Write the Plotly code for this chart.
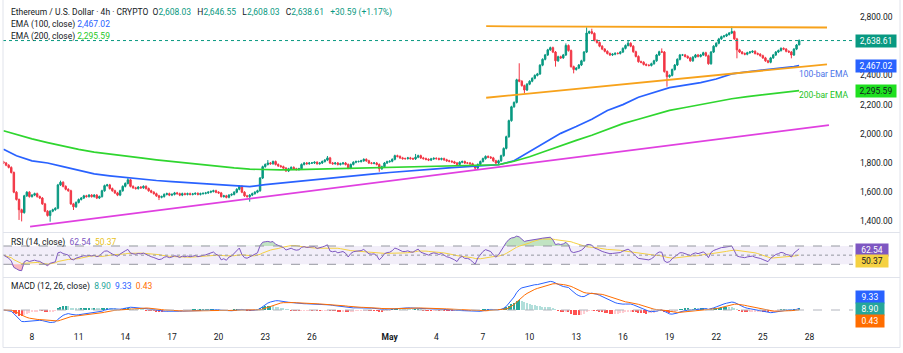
import numpy as np
import pandas as pd
import plotly.graph_objects as go

W, H = 903, 353
FONT = "Roboto"

# ---------------- data ----------------
days = ["2025-04-06", "2025-04-07", "2025-04-08", "2025-04-09", "2025-04-10", "2025-04-11",
        "2025-04-12", "2025-04-13", "2025-04-14", "2025-04-15", "2025-04-16", "2025-04-17",
        "2025-04-18", "2025-04-19", "2025-04-20", "2025-04-21", "2025-04-22", "2025-04-23",
        "2025-04-24", "2025-04-25", "2025-04-26", "2025-04-27", "2025-04-28", "2025-04-29",
        "2025-04-30", "2025-05-01", "2025-05-02", "2025-05-03", "2025-05-04", "2025-05-05",
        "2025-05-06", "2025-05-07", "2025-05-08", "2025-05-09", "2025-05-10", "2025-05-11",
        "2025-05-12", "2025-05-13", "2025-05-14", "2025-05-15", "2025-05-16", "2025-05-17",
        "2025-05-18", "2025-05-19", "2025-05-20", "2025-05-21", "2025-05-22", "2025-05-23",
        "2025-05-24", "2025-05-25", "2025-05-26", "2025-05-27"]

# 4h closes per day
closes_by_day = [
    [1800, 1785, 1770, 1735, 1600],
    [1550, 1480, 1460, 1575, 1600, 1570],
    [1580, 1590, 1570, 1560, 1520, 1470],
    [1440, 1470, 1480, 1490, 1650, 1668],
    [1640, 1620, 1610, 1520, 1500, 1530],
    [1550, 1560, 1575, 1570, 1580, 1570],
    [1580, 1560, 1570, 1610, 1645, 1650],
    [1625, 1610, 1595, 1580, 1610, 1640],
    [1660, 1685, 1640, 1630, 1625, 1635],
    [1630, 1640, 1625, 1610, 1600, 1590],
    [1575, 1565, 1570, 1585, 1590, 1580],
    [1585, 1595, 1590, 1580, 1590, 1585],
    [1590, 1585, 1588, 1592, 1585, 1590],
    [1592, 1595, 1600, 1605, 1610, 1600],
    [1595, 1570, 1575, 1565, 1580, 1585],
    [1600, 1620, 1640, 1600, 1575, 1570],
    [1580, 1590, 1600, 1610, 1697, 1775],
    [1790, 1800, 1795, 1810, 1790, 1780],
    [1775, 1765, 1745, 1760, 1770, 1760],
    [1755, 1760, 1790, 1800, 1795, 1800],
    [1800, 1805, 1795, 1800, 1810, 1820],
    [1835, 1800, 1795, 1800, 1790, 1795],
    [1800, 1790, 1765, 1790, 1805, 1810],
    [1810, 1815, 1825, 1815, 1800, 1798],
    [1800, 1790, 1760, 1775, 1800, 1809],
    [1812, 1825, 1850, 1845, 1835, 1830],
    [1830, 1835, 1830, 1828, 1840, 1850],
    [1835, 1830, 1825, 1820, 1828, 1832],
    [1830, 1825, 1830, 1822, 1815, 1812],
    [1808, 1800, 1790, 1805, 1810, 1800],
    [1800, 1795, 1780, 1765, 1790, 1810],
    [1830, 1845, 1840, 1835, 1815, 1800],
    [1815, 1850, 1900, 1980, 2090, 2185],
    [2215, 2370, 2360, 2330, 2300, 2340],
    [2360, 2380, 2400, 2410, 2470, 2510],
    [2540, 2575, 2590, 2560, 2500, 2528],
    [2520, 2540, 2605, 2570, 2460, 2440],
    [2450, 2471, 2500, 2560, 2690, 2700],
    [2688, 2640, 2625, 2600, 2580, 2565],
    [2550, 2540, 2545, 2551, 2550, 2560],
    [2585, 2605, 2620, 2600, 2562, 2530],
    [2494, 2490, 2475, 2470, 2468, 2480],
    [2500, 2540, 2562, 2560, 2426, 2391],
    [2400, 2440, 2471, 2510, 2540, 2540],
    [2530, 2520, 2500, 2525, 2540, 2530],
    [2540, 2555, 2535, 2480, 2560, 2600],
    [2620, 2650, 2665, 2670, 2680, 2690],
    [2700, 2650, 2575, 2560, 2550, 2545],
    [2555, 2560, 2565, 2550, 2545, 2535],
    [2520, 2500, 2490, 2520, 2540, 2560],
    [2570, 2585, 2580, 2565, 2560, 2540],
    [2580, 2608.03, 2638.61],
]
first_open = 1808
wick_pad = 7

# notable wick extremes
wick_times = ["2025-04-07 04:00", "2025-04-07 08:00", "2025-04-09 04:00", "2025-04-09 20:00",
              "2025-04-10 16:00", "2025-04-14 04:00", "2025-04-16 04:00", "2025-04-22 00:00",
              "2025-04-23 04:00", "2025-04-24 08:00", "2025-04-27 00:00", "2025-04-30 08:00",
              "2025-05-02 16:00", "2025-05-05 08:00", "2025-05-06 12:00", "2025-05-09 08:00",
              "2025-05-09 16:00", "2025-05-11 08:00", "2025-05-11 16:00", "2025-05-12 08:00",
              "2025-05-12 20:00", "2025-05-13 16:00", "2025-05-14 00:00", "2025-05-16 08:00",
              "2025-05-18 12:00", "2025-05-18 20:00", "2025-05-23 00:00", "2025-05-23 08:00",
              "2025-05-25 08:00", "2025-05-26 20:00", "2025-05-27 08:00"]
wick_highs = [None, None, None, 1679, None, 1697, None, None, 1820, None, 1848, None, 1862, None,
              None, 2483, None, 2597, None, 2619, None, 2729, 2720, 2642, 2585, None, 2735, None,
              None, None, 2646.55]
wick_lows = [1410, 1400, 1398, None, 1478, None, 1546, 1535, None, 1740, None, 1740, None, 1786,
             1752, None, 2277, None, 2460, None, 2414, None, None, None, None, 2323, None, 2517,
             2483, 2517, 2608.03]

# EMA values (daily)
ema_dates = (["2025-04-06 04:00"] +
             [d.strftime("%Y-%m-%d 00:00") for d in pd.date_range("2025-04-07", "2025-05-27")] +
             ["2025-05-27 08:00"])
ema100 = [1894, 1850, 1815, 1800, 1775, 1748, 1725, 1712, 1700, 1690, 1680, 1672, 1665, 1658,
          1650, 1643, 1638, 1652, 1663, 1673, 1685, 1697, 1707, 1717, 1726, 1735, 1745, 1752,
          1760, 1768, 1775, 1781, 1788, 1815, 1877, 1940, 2003, 2050, 2100, 2160, 2200, 2250,
          2285, 2316, 2333, 2350, 2375, 2410, 2425, 2435, 2445, 2460, 2467.02]
ema200 = [2021, 1995, 1965, 1940, 1915, 1893, 1875, 1860, 1847, 1835, 1822, 1810, 1798, 1787,
          1776, 1766, 1758, 1753, 1753, 1754, 1757, 1760, 1763, 1766, 1769, 1772, 1775, 1777,
          1779, 1781, 1783, 1785, 1788, 1812, 1843, 1880, 1920, 1955, 1990, 2030, 2070, 2100,
          2130, 2160, 2180, 2200, 2222, 2240, 2255, 2268, 2282, 2292, 2295.59]

# drawn trend lines (start / end)
support_dates = ["2025-04-07 21:00", "2025-05-29 06:00"]
support_prices = [1364, 2060]
top_dates = ["2025-05-07 05:00", "2025-05-29 03:00"]
top_prices = [2737, 2728]
rising_dates = ["2025-05-07 05:00", "2025-05-29 03:00"]
rising_prices = [2247, 2476]

# legend / label values
ema100_last, ema200_last = 2467.02, 2295.59
rsi_last, rsi_ma_last = 62.54, 50.37
macd_hist_last, macd_last, macd_signal_last = 8.90, 9.33, 0.43
change_abs, change_pct = 30.59, 1.17

x_tick_dates = ["2025-04-08", "2025-04-11", "2025-04-14", "2025-04-17", "2025-04-20",
                "2025-04-23", "2025-04-26", "2025-05-01", "2025-05-04", "2025-05-07",
                "2025-05-10", "2025-05-13", "2025-05-16", "2025-05-19", "2025-05-22",
                "2025-05-25", "2025-05-28"]
x_tick_text = ["8", "11", "14", "17", "20", "23", "26", "<b>May</b>", "4", "7", "10", "13",
               "16", "19", "22", "25", "28"]
price_ticks = [1400, 1600, 1800, 2000, 2200, 2400, 2800]   # 2,600 sits behind the last-price tag

# ---------------- build OHLC ----------------
times, closes = [], []
for i, (d, vals) in enumerate(zip(days, closes_by_day)):
    start_h = 24 - 4 * len(vals) if i == 0 else 0
    for k, v in enumerate(vals):
        times.append(pd.Timestamp(d) + pd.Timedelta(hours=start_h + 4 * k))
        closes.append(float(v))
opens = [float(first_open)] + closes[:-1]
hi_over = {pd.Timestamp(t): v for t, v in zip(wick_times, wick_highs) if v is not None}
lo_over = {pd.Timestamp(t): v for t, v in zip(wick_times, wick_lows) if v is not None}
highs, lows = [], []
for t, o, c in zip(times, opens, closes):
    highs.append(max(hi_over[t], o, c) if t in hi_over else max(o, c) + wick_pad)
    lows.append(min(lo_over[t], o, c) if t in lo_over else min(o, c) - wick_pad)

c = np.array(closes)


def ema(x, n):
    a = 2 / (n + 1)
    out = np.empty_like(x)
    out[0] = x[0]
    for i in range(1, len(x)):
        out[i] = a * x[i] + (1 - a) * out[i - 1]
    return out


macd = ema(c, 12) - ema(c, 26)
sig = ema(macd, 9)
hist = macd - sig
dif = np.diff(c, prepend=c[0])
g = np.clip(dif, 0, None)
l = np.clip(-dif, 0, None)
ag = np.empty_like(c)
al = np.empty_like(c)
ag[0] = al[0] = 8.0
for i in range(1, len(c)):
    ag[i] = (ag[i - 1] * 13 + g[i]) / 14
    al[i] = (al[i - 1] * 13 + l[i]) / 14
rsi = 100 - 100 / (1 + ag / al)
rsi_ma = pd.Series(rsi).rolling(14, min_periods=1).mean().values

# ---------------- geometry ----------------
def px(x):
    return x / W


def py(y):
    return 1 - y / H


X0, X1 = 3, 853
MAIN = (0, 232)
RSI = (233, 277)
MACD = (278, 330)
day_px = 15.55
apr8 = pd.Timestamp("2025-04-08")
x_start = apr8 + pd.Timedelta(days=(X0 - 32) / day_px)
x_end = apr8 + pd.Timedelta(days=(X1 - 32) / day_px)

k = 1000 / 146.0
p_top = 2800 + (17 - MAIN[0]) * k
p_bot = 2800 - (MAIN[1] - 17) * k
r_scale = 40 / (264.3 - 246)
r_top = 70 + (246 - RSI[0]) * r_scale
r_bot = 30 - (RSI[1] - 264.3) * r_scale
P = float(np.max(macd))
m_scale = P / 28.6
zero_px = 310
m_top = (zero_px - MACD[0]) * m_scale
m_bot = -(MACD[1] - zero_px) * m_scale

UP, DOWN = "#089981", "#f23645"
BLUE, GREEN = "#2962ff", "#2fd62f"
ORANGE, MAGENTA = "#f7a21b", "#e040e0"
TXT = "#131722"

fig = go.Figure()
fig.add_trace(go.Candlestick(
    x=times, open=opens, high=highs, low=lows, close=closes, xaxis="x", yaxis="y",
    increasing=dict(line=dict(color=UP, width=1), fillcolor=UP),
    decreasing=dict(line=dict(color=DOWN, width=1), fillcolor=DOWN),
    whiskerwidth=0, showlegend=False))
fig.add_trace(go.Scatter(x=pd.to_datetime(ema_dates), y=ema100, mode="lines", yaxis="y",
                         line=dict(color=BLUE, width=1.7), showlegend=False))
fig.add_trace(go.Scatter(x=pd.to_datetime(ema_dates), y=ema200, mode="lines", yaxis="y",
                         line=dict(color=GREEN, width=1.7), showlegend=False))
for dts, prs, col in [(support_dates, support_prices, MAGENTA), (top_dates, top_prices, ORANGE),
                      (rising_dates, rising_prices, ORANGE)]:
    fig.add_trace(go.Scatter(x=pd.to_datetime(dts), y=prs, mode="lines", yaxis="y",
                             line=dict(color=col, width=1.8), showlegend=False))

# RSI
fig.add_trace(go.Scatter(x=times, y=[70] * len(times), yaxis="y2", mode="lines",
                         line=dict(width=0), showlegend=False, hoverinfo="skip"))
fig.add_trace(go.Scatter(x=times, y=np.maximum(rsi, 70), yaxis="y2", mode="lines",
                         line=dict(width=0), fill="tonexty", fillcolor="rgba(76,175,80,0.35)",
                         showlegend=False, hoverinfo="skip"))
fig.add_trace(go.Scatter(x=times, y=[30] * len(times), yaxis="y2", mode="lines",
                         line=dict(width=0), showlegend=False, hoverinfo="skip"))
fig.add_trace(go.Scatter(x=times, y=np.minimum(rsi, 30), yaxis="y2", mode="lines",
                         line=dict(width=0), fill="tonexty", fillcolor="rgba(242,54,69,0.35)",
                         showlegend=False, hoverinfo="skip"))
fig.add_trace(go.Scatter(x=times, y=rsi_ma, yaxis="y2", mode="lines",
                         line=dict(color="#f5d142", width=1), showlegend=False))
fig.add_trace(go.Scatter(x=times, y=rsi, yaxis="y2", mode="lines",
                         line=dict(color="#7e57c2", width=1), showlegend=False))

# MACD
hcols = []
for i, h in enumerate(hist):
    prev = hist[i - 1] if i > 0 else h
    if h >= 0:
        hcols.append("#26a69a" if h >= prev else "#b2dfdb")
    else:
        hcols.append("#ff5252" if h < prev else "#ffcdd2")
fig.add_trace(go.Bar(x=times, y=hist, yaxis="y3", marker=dict(color=hcols, line=dict(width=0)),
                     width=4 * 3600 * 1000 * 0.45, showlegend=False))
fig.add_trace(go.Scatter(x=times, y=macd, yaxis="y3", mode="lines",
                         line=dict(color=BLUE, width=1), showlegend=False))
fig.add_trace(go.Scatter(x=times, y=sig, yaxis="y3", mode="lines",
                         line=dict(color="#ff6d00", width=1), showlegend=False))

shapes = []
# RSI band and levels
shapes.append(dict(type="rect", xref="paper", x0=px(X0), x1=px(X1), yref="y2", y0=30, y1=70,
                   fillcolor="rgba(126,87,194,0.10)", line=dict(width=0), layer="below"))
for lv, dash in [(70, "dash"), (50, "dot"), (30, "dash")]:
    shapes.append(dict(type="line", xref="paper", x0=px(X0), x1=px(X1), yref="y2", y0=lv, y1=lv,
                       line=dict(color="#9598a1", width=1, dash=dash)))
shapes.append(dict(type="line", xref="paper", x0=px(X0), x1=px(X1), yref="y3", y0=0, y1=0,
                   line=dict(color="#b2b5be", width=1, dash="dash")))
# last price dotted line
shapes.append(dict(type="line", xref="paper", x0=px(X0), x1=px(855), yref="y", y0=closes[-1],
                   y1=closes[-1], line=dict(color=UP, width=1, dash="dot")))
# pane separators / frame
for ysep in [232.5, 277.5, 347.5]:
    shapes.append(dict(type="line", xref="paper", yref="paper", x0=px(X0), x1=px(900),
                       y0=py(ysep), y1=py(ysep), line=dict(color="#e0e3eb", width=1)))
for xsep in [X0, 900]:
    shapes.append(dict(type="line", xref="paper", yref="paper", x0=px(xsep), x1=px(xsep),
                       y0=py(347.5), y1=1, line=dict(color="#e0e3eb", width=1)))

ann = []
HS = 8.5  # legend font size


def text(x, y, s, size=HS, color=TXT, anchor="left"):
    ann.append(dict(xref="paper", yref="paper", x=px(x), y=py(y), text=s, showarrow=False,
                    xanchor=anchor, yanchor="middle", font=dict(family=FONT, size=size, color=color)))


def tag(yref, yval, s, bg, fg="white", width=38):
    ann.append(dict(xref="paper", yref=yref, x=px(855), y=yval, text=s, showarrow=False,
                    xanchor="left", yanchor="middle", bgcolor=bg, borderpad=1, width=width,
                    align="center", font=dict(family=FONT, size=8.5, color=fg)))


def sp(col, s):
    return f"<span style='color:{col}'>{s}</span>"


NB = "&nbsp;"
o_, h_, l_, c_ = opens[-1], highs[-1], lows[-1], closes[-1]
hdr = ("Ethereum / U.S. Dollar · 4h · CRYPTO" + NB * 2 + "O" + sp(UP, f"{o_:,.2f}") +
       NB * 3 + "H" + sp(UP, f"{h_:,.2f}") + NB * 3 + "L" + sp(UP, f"{l_:,.2f}") +
       NB * 3 + "C" + sp(UP, f"{c_:,.2f}") + NB * 3 +
       sp(UP, f"+{change_abs:.2f} (+{change_pct:.2f}%)"))
text(9, 12.5, hdr)
text(9, 24.5, "EMA (100, close)" + NB + sp(BLUE, f"{ema100_last:,.2f}"))
text(9, 36, "EMA (200, close)" + NB + sp("#1fc81f", f"{ema200_last:,.2f}"))
text(9, 242.3, "RSI (14, close)" + NB * 2 + sp("#7e57c2", f"{rsi_last:.2f}") + NB * 2 +
     sp("#e8c21a", f"{rsi_ma_last:.2f}"))
text(9, 286.7, "MACD (12, 26, close)" + NB * 2 + sp("#26a69a", f"{macd_hist_last:.2f}") + NB * 2 +
     sp(BLUE, f"{macd_last:.2f}") + NB * 2 + sp("#ff6d00", f"{macd_signal_last:.2f}"))
text(850, 74, "100-bar EMA", color="#4a72e8", anchor="right")
text(850, 95, "200-bar EMA", color="#22c222", anchor="right")

tag("y", closes[-1], f"{closes[-1]:,.2f}", UP)
tag("y", ema100_last, f"{ema100_last:,.2f}", BLUE)
tag("y", ema200_last, f"{ema200_last:,.2f}", "#1fe01f", fg=TXT)
tag("paper", py(249.5), f"{rsi_last:.2f}", "#7e57c2", width=30)
tag("paper", py(261), f"{rsi_ma_last:.2f}", "#f5d142", fg=TXT, width=30)
tag("paper", py(297), f"{macd_last:.2f}", BLUE, width=26)
tag("paper", py(309), f"{macd_hist_last:.2f}", "#26a69a", width=26)
tag("paper", py(321), f"{macd_signal_last:.2f}", "#ff6d00", width=26)

fig.update_layout(
    width=W, height=H, margin=dict(l=0, r=0, t=0, b=0),
    paper_bgcolor="white", plot_bgcolor="white", showlegend=False,
    font=dict(family=FONT, size=8.5, color=TXT), bargap=0, boxgap=0.2,
    shapes=shapes, annotations=ann,
    xaxis=dict(domain=[px(X0), px(X1)], anchor="y3", type="date",
               range=[x_start, x_end], rangeslider=dict(visible=False),
               tickvals=pd.to_datetime(x_tick_dates), ticktext=x_tick_text,
               showgrid=False, zeroline=False, showline=False, ticks="",
               tickfont=dict(family=FONT, size=8.5, color=TXT), fixedrange=True),
    yaxis=dict(domain=[py(MAIN[1]), py(MAIN[0])], anchor="x", side="right",
               range=[p_bot, p_top], tickvals=price_ticks,
               ticktext=[f"{v:,.2f}" for v in price_ticks], showgrid=False,
               zeroline=False, showline=False, ticks="", ticklabelstandoff=6,
               tickfont=dict(family=FONT, size=8.5, color=TXT)),
    yaxis2=dict(domain=[py(RSI[1]), py(RSI[0])], anchor="x", side="right",
                range=[r_bot, r_top], showticklabels=False, showgrid=False,
                zeroline=False, showline=False, ticks=""),
    yaxis3=dict(domain=[py(MACD[1]), py(MACD[0])], anchor="x", side="right",
                range=[m_bot, m_top], showticklabels=False, showgrid=False,
                zeroline=False, showline=False, ticks=""),
)

fig.write_html("out.html")
